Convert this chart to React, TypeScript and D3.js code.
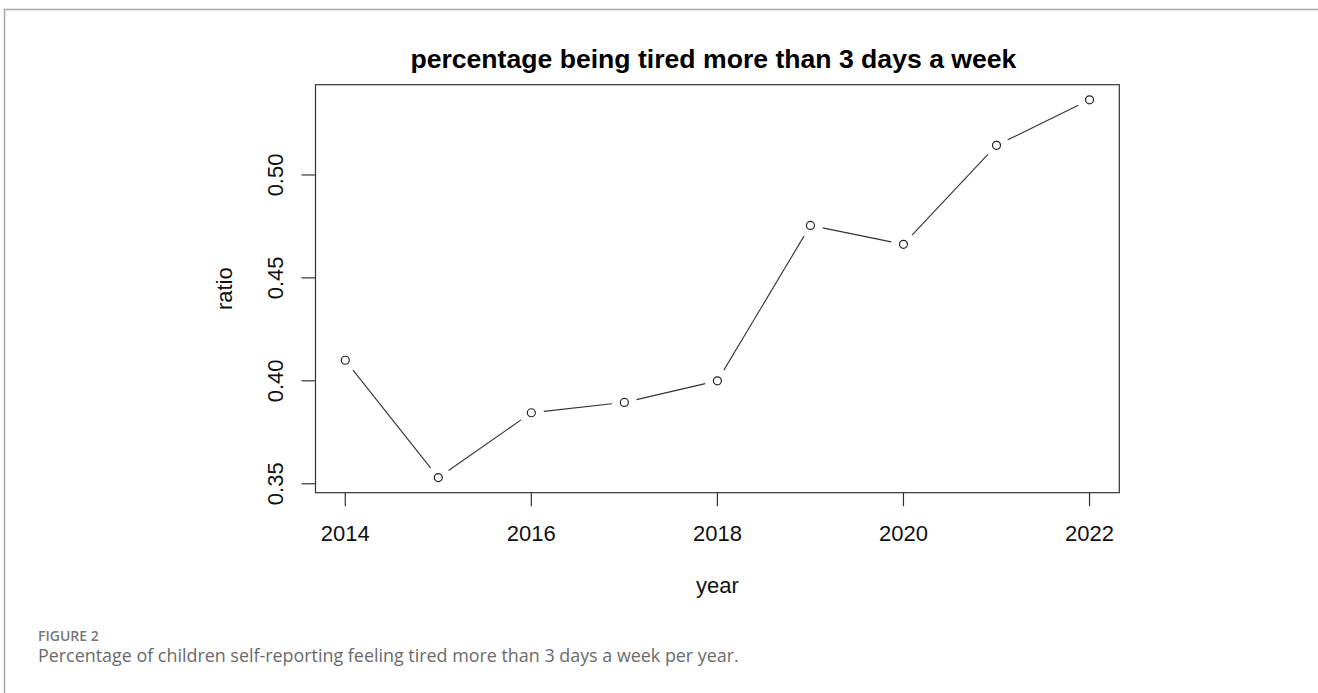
import React from "react";
import * as d3 from "d3";

// Share of children reporting being tired more than 3 days a week, by survey year
const years = [2014, 2015, 2016, 2017, 2018, 2019, 2020, 2021, 2022];
const ratios = [0.41, 0.353, 0.3845, 0.3895, 0.4, 0.4755, 0.4663, 0.5144, 0.5365];
const xTicks = [2014, 2016, 2018, 2020, 2022];
const yTicks = [0.35, 0.4, 0.45, 0.5];

const W = 1318;
const H = 693;
const box = { left: 315.5, right: 1119.3, top: 84.7, bottom: 492.7 };
const axisFont = "'Liberation Sans', Arial, sans-serif";

// R-style 4% padding around the data range
function padded(ext: [number, number]): [number, number] {
  const d = (ext[1] - ext[0]) * 0.04;
  return [ext[0] - d, ext[1] + d];
}

export default function App() {
  const x = d3.scaleLinear().domain(padded(d3.extent(years) as [number, number])).range([box.left, box.right]);
  const y = d3.scaleLinear().domain(padded(d3.extent(ratios) as [number, number])).range([box.bottom, box.top]);

  const pts = years.map((yr, i) => [x(yr), y(ratios[i])] as [number, number]);
  const gap = 12.5;
  const segs = pts.slice(1).map((p, i) => {
    const a = pts[i];
    const dx = p[0] - a[0];
    const dy = p[1] - a[1];
    const len = Math.hypot(dx, dy);
    if (len <= 2 * gap) return null;
    const ux = dx / len;
    const uy = dy / len;
    return [a[0] + ux * gap, a[1] + uy * gap, p[0] - ux * gap, p[1] - uy * gap];
  });

  const midX = (box.left + box.right) / 2;
  const midY = (box.top + box.bottom) / 2;

  return (
    <div style={{ position: "absolute", left: 0, top: 0 }}>
      <svg width={W} height={H} viewBox={`0 0 ${W} ${H}`} style={{ display: "block", background: "#fff" }}>
        {/* figure frame */}
        <path d={`M4.5,${H} V9.5 H${W}`} fill="none" stroke="#a8a8a8" strokeWidth={1.5} />

        <text x={midX - 4} y={68} textAnchor="middle" fontFamily={axisFont} fontWeight="bold" fontSize={26.6} fill="#000">
          percentage being tired more than 3 days a week
        </text>

        {/* plot box */}
        <rect x={box.left} y={box.top} width={box.right - box.left} height={box.bottom - box.top} fill="none" stroke="#333" strokeWidth={1.2} />

        {/* x axis */}
        {xTicks.map((t) => (
          <g key={t}>
            <line x1={x(t)} x2={x(t)} y1={box.bottom} y2={box.bottom + 13.5} stroke="#333" strokeWidth={1.2} />
            <text x={x(t)} y={541} textAnchor="middle" fontFamily={axisFont} fontSize={22} fill="#111">
              {t}
            </text>
          </g>
        ))}
        <text x={midX} y={593} textAnchor="middle" fontFamily={axisFont} fontSize={22} fill="#111">
          year
        </text>

        {/* y axis */}
        {yTicks.map((t) => (
          <g key={t}>
            <line x1={box.left - 14} x2={box.left} y1={y(t)} y2={y(t)} stroke="#333" strokeWidth={1.2} />
            <text
              transform={`translate(283.3,${y(t)}) rotate(-90)`}
              textAnchor="middle"
              fontFamily={axisFont}
              fontSize={22}
              fill="#111"
            >
              {t.toFixed(2)}
            </text>
          </g>
        ))}
        <text transform={`translate(232,${midY}) rotate(-90)`} textAnchor="middle" fontFamily={axisFont} fontSize={22} fill="#111">
          ratio
        </text>

        {/* line with gaps around the points */}
        {segs.map((s, i) =>
          s ? <line key={i} x1={s[0]} y1={s[1]} x2={s[2]} y2={s[3]} stroke="#333" strokeWidth={1.1} /> : null
        )}
        {pts.map((p, i) => (
          <circle key={i} cx={p[0]} cy={p[1]} r={4} fill="#fff" stroke="#222" strokeWidth={1.2} />
        ))}

        {/* caption */}
        <text x={38} y={641} fontFamily="'Open Sans', 'Noto Sans', sans-serif" fontSize={14} fontWeight={600} fill="#777">
          FIGURE 2
        </text>
        <text x={38} y={662} fontFamily="'Open Sans', 'Noto Sans', sans-serif" fontSize={17.9} fill="#6a6a6a">
          Percentage of children self-reporting feeling tired more than 3 days a week per year.
        </text>
      </svg>
    </div>
  );
}
